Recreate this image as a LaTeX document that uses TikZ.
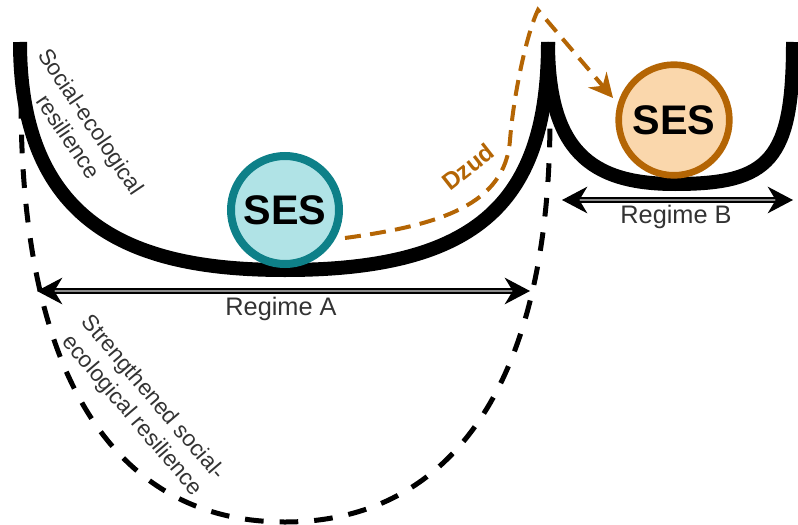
\documentclass[tikz,border=0pt]{standalone}
\usepackage{fontspec}
\setmainfont{Liberation Sans}
\usetikzlibrary{arrows.meta}
\definecolor{tealS}{HTML}{0E8088}
\definecolor{tealF}{HTML}{B0E3E6}
\definecolor{orS}{HTML}{B46504}
\definecolor{orF}{HTML}{FAD7AC}
\definecolor{txt}{HTML}{333333}
\begin{document}
\begin{tikzpicture}[x=0.75pt,y=-0.75pt,
  valley/.style={line width=10.5pt,black},
  resil/.style={line width=3.75pt,black,dash pattern=on 14pt off 12pt},
  regline/.style={line width=1.1pt,double=black!45,double distance=1.6pt,
    shorten <=12pt,shorten >=12pt},
  regtips/.style={tips,line width=1pt,black,
    {Stealth[length=19pt,width=20pt,inset=6pt,fill=black]}-{Stealth[length=19pt,width=20pt,inset=6pt,fill=black]}},
  dzudarrow/.style={line width=3pt,orS,dash pattern=on 12pt off 7pt,
    -{Stealth[length=18pt,width=18pt,inset=6pt]}},
  sesball/.style={circle,inner sep=0pt,font=\fontsize{31}{31}\selectfont\bfseries,text=black},
  lbl/.style={align=center,text=txt,font=\fontsize{17}{20.5}\selectfont},
  reglbl/.style={anchor=base,text=txt,font=\fontsize{19}{22}\selectfont},
  dzudlbl/.style={text=orS,font=\fontsize{18}{20}\selectfont\bfseries}]
\useasboundingbox (0,0) rectangle (798,524);

% strengthened resilience (dashed basin)
\coordinate (rl) at (21,100);
\coordinate (rb) at (285,522);
\coordinate (rr) at (550,117);
\draw[resil] (rl) .. controls (21,400) and (130,522) .. (rb)
  .. controls (440,522) and (550,400) .. (rr);

% basins
\coordinate (al) at (20,42);
\coordinate (ab) at (285,270);
\coordinate (cusp) at (548,42);
\coordinate (bb) at (675,184);
\coordinate (br) at (793,42);
\draw[valley] (al) .. controls (20,230) and (140,270) .. (ab)
  .. controls (480,270) and (548,200) .. (cusp);
\draw[valley] (cusp) .. controls (548,150) and (590,184) .. (bb)
  .. controls (770,184) and (793,160) .. (br);

% regime arrows
\coordinate (aL) at (37,291);
\coordinate (aR) at (530,291);
\coordinate (bL) at (562,200);
\coordinate (bR) at (793,200);
\draw[regline] (aL) -- (aR);
\path[regtips] (aL) -- (aR);
\draw[regline] (bL) -- (bR);
\path[regtips] (bL) -- (bR);
\node[reglbl] (regA) at (281,315) {Regime A};
\node[reglbl] (regB) at (676,223) {Regime B};

% SES balls
\node[sesball,minimum size=81pt,line width=6pt,draw=tealS,fill=tealF] (sesA) at (285,210) {SES};
\node[sesball,minimum size=83pt,line width=5pt,draw=orS,fill=orF] (sesB) at (674,120) {SES};

% Dzud
\coordinate (dzs) at (345,238);
\coordinate (peak) at (538,10);
\coordinate (dze) at (613,98);
\draw[dzudarrow] (dzs) .. controls (440,225) and (505,205) .. (510,140)
  .. controls (514,90) and (528,30) .. (peak) -- (dze);
\node[dzudlbl,rotate=38] (dzud) at (468,167) {Dzud};

% resilience labels
\node[lbl,rotate=-56] (socres) at (80,129) {Social-ecological\\resilience};
\node[lbl,rotate=-49.5] (strres) at (142,407) {Strengthened social-\\ecological resilience};
\end{tikzpicture}
\end{document}
